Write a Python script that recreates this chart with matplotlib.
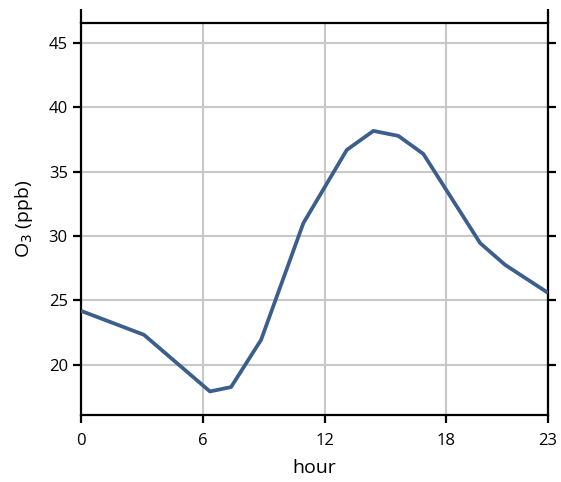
import numpy as np
import matplotlib
matplotlib.use("Agg")
import matplotlib.pyplot as plt

plt.rcParams['font.family'] = ['Open Sans', 'DejaVu Sans']

# values
hour = [0, 3.1, 6.35, 7.39, 8.87, 10.95, 13.09, 14.4, 15.63, 16.86, 19.66, 20.89, 23]
o3 = [24.19, 22.33, 17.93, 18.27, 21.94, 31.0, 36.69, 38.17, 37.78, 36.38, 29.45, 27.76, 25.59]
xticks = [0, 6, 12, 18, 23]
yticks = [20, 25, 30, 35, 40, 45]

fig = plt.figure(figsize=(5.61, 4.82), dpi=100)
ax = fig.add_axes([81 / 561, (482 - 415) / 482, (548 - 81) / 561, (415 - 23) / 482])

ax.plot(hour, o3, color='#3b5e8c', linewidth=2.7, solid_capstyle='butt', zorder=3)

ax.set_xlim(0, 23)
ax.set_ylim(16.1, 46.55)
ax.set_xticks(xticks)
ax.set_yticks(yticks)
ax.grid(True, color='#c8c8c8', linewidth=1.5, zorder=0)
ax.set_axisbelow(True)

for s in ['left', 'right', 'bottom', 'top']:
    ax.spines[s].set_linewidth(1.6)

# left and right axis lines run a bit above the plot area
for x in [0, 23]:
    ax.plot([x, x], [46.55, 47.6], color='black', linewidth=1.6, clip_on=False,
            solid_capstyle='butt')

ax.tick_params(axis='both', direction='out', length=6, width=1.6, labelsize=12, colors='black')
ax.tick_params(axis='y', right=True, labelright=False)
ax.tick_params(axis='x', pad=7)

ax.set_xlabel('hour', fontsize=14, labelpad=7)
ax.set_ylabel('O$_3$ (ppb)', fontsize=14, labelpad=10)

fig.savefig('out.png', dpi=100)
